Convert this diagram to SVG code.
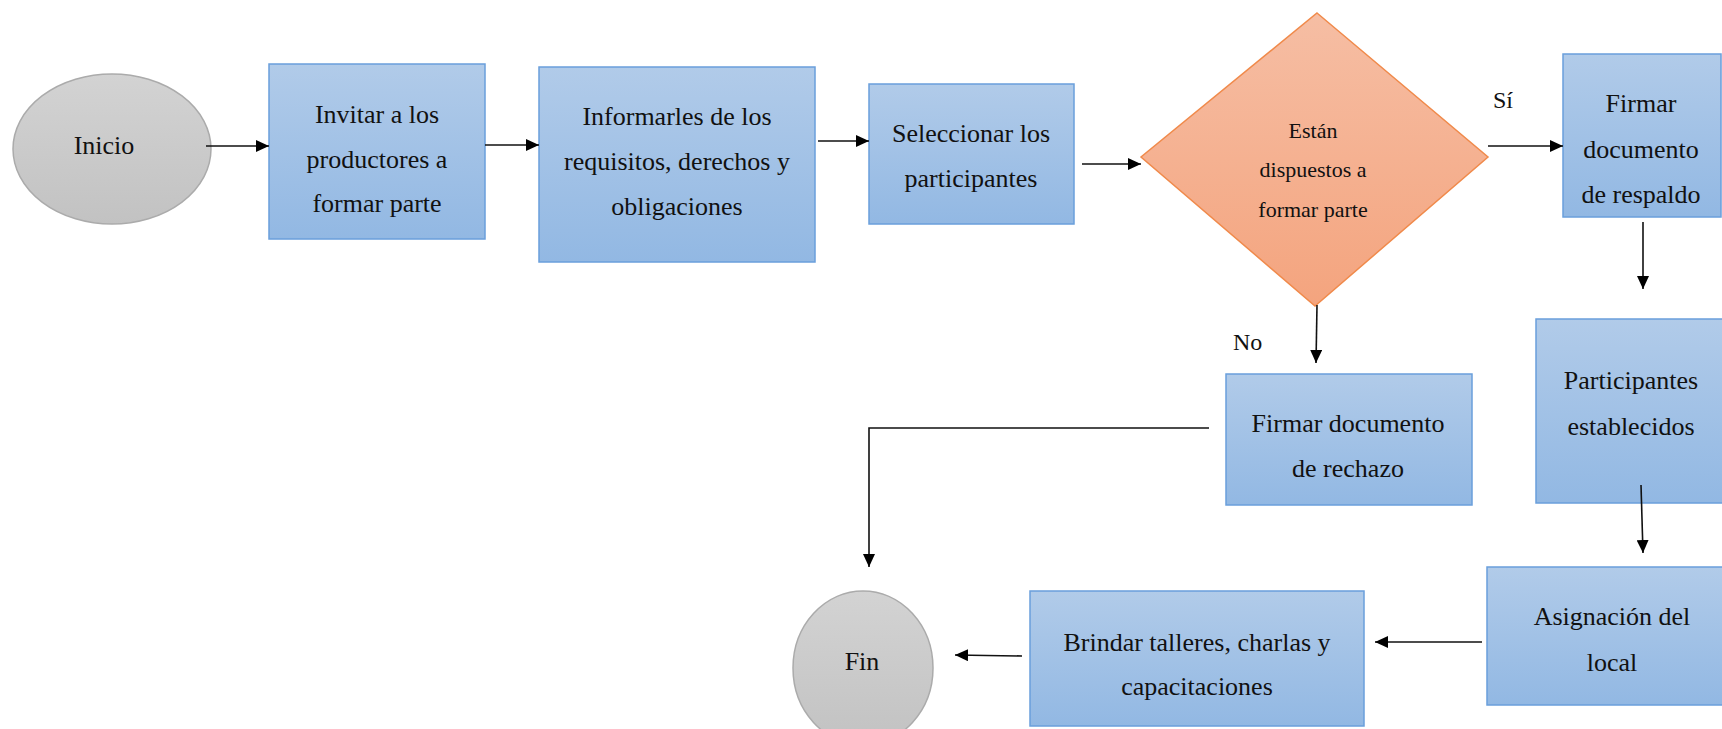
<svg xmlns="http://www.w3.org/2000/svg" width="1722" height="729" viewBox="0 0 1722 729">
<defs>
<linearGradient id="gBlue" x1="0" y1="0" x2="0" y2="1">
<stop offset="0" stop-color="#B1CBE9"/>
<stop offset="1" stop-color="#92B8E3"/>
</linearGradient>
<linearGradient id="gOrange" x1="0" y1="0" x2="0" y2="1">
<stop offset="0" stop-color="#F6BEA4"/>
<stop offset="1" stop-color="#F4A47E"/>
</linearGradient>
<linearGradient id="gGray" x1="0" y1="0" x2="0" y2="1">
<stop offset="0" stop-color="#D3D3D3"/>
<stop offset="1" stop-color="#C2C2C2"/>
</linearGradient>
<marker id="arr" markerUnits="userSpaceOnUse" markerWidth="14" markerHeight="12" refX="13" refY="6" orient="auto">
<path d="M0,0 L13,6 L0,12 z" fill="#000"/>
</marker>
<style>
.box{fill:url(#gBlue);stroke:#6A9FDB;stroke-width:1.5}
.dia{fill:url(#gOrange);stroke:#F08A4B;stroke-width:1.5}
.ell{fill:url(#gGray);stroke:#ABABAB;stroke-width:1.5}
.t{font-family:"Liberation Serif","Times New Roman",serif;font-size:26px;fill:#111;text-anchor:middle}
.td{font-family:"Liberation Serif","Times New Roman",serif;font-size:22px;fill:#111;text-anchor:middle}
.lbl{font-family:"Liberation Serif","Times New Roman",serif;font-size:24px;fill:#111}
.c{fill:none;stroke:#111;stroke-width:1.6}
</style>
</defs>
<rect width="1722" height="729" fill="#fff"/>

<g id="inicio">
<ellipse class="ell" cx="112" cy="149" rx="99" ry="75"/>
<text class="t" x="104" y="154">Inicio</text>
</g>

<g id="invitar">
<rect class="box" x="269" y="64" width="216" height="175"/>
<text class="t" x="377" y="123">Invitar a los</text>
<text class="t" x="377" y="168">productores a</text>
<text class="t" x="377" y="212">formar parte</text>
</g>

<g id="informarles">
<rect class="box" x="539" y="67" width="276" height="195"/>
<text class="t" x="677" y="125">Informarles de los</text>
<text class="t" x="677" y="170">requisitos, derechos y</text>
<text class="t" x="677" y="215">obligaciones</text>
</g>

<g id="seleccionar">
<rect class="box" x="869" y="84" width="205" height="140"/>
<text class="t" x="971" y="142">Seleccionar los</text>
<text class="t" x="971" y="187">participantes</text>
</g>

<g id="decision">
<polygon class="dia" points="1317,13 1488,157 1315,306 1141,157"/>
<text class="td" x="1313" y="138">Están</text>
<text class="td" x="1313" y="177">dispuestos a</text>
<text class="td" x="1313" y="217">formar parte</text>
</g>

<g id="firmar-respaldo">
<rect class="box" x="1563" y="54" width="158" height="163"/>
<text class="t" x="1641" y="112">Firmar</text>
<text class="t" x="1641" y="158">documento</text>
<text class="t" x="1641" y="203">de respaldo</text>
</g>

<g id="firmar-rechazo">
<rect class="box" x="1226" y="374" width="246" height="131"/>
<text class="t" x="1348" y="432">Firmar documento</text>
<text class="t" x="1348" y="477">de rechazo</text>
</g>

<g id="participantes">
<rect class="box" x="1536" y="319" width="190" height="184"/>
<text class="t" x="1631" y="389">Participantes</text>
<text class="t" x="1631" y="435">establecidos</text>
</g>

<g id="asignacion">
<rect class="box" x="1487" y="567" width="240" height="138"/>
<text class="t" x="1612" y="625">Asignación del</text>
<text class="t" x="1612" y="671">local</text>
</g>

<g id="brindar">
<rect class="box" x="1030" y="591" width="334" height="135"/>
<text class="t" x="1197" y="651">Brindar talleres, charlas y</text>
<text class="t" x="1197" y="695">capacitaciones</text>
</g>

<g id="fin">
<ellipse class="ell" cx="863" cy="668" rx="70" ry="77"/>
<text class="t" x="862" y="670">Fin</text>
</g>

<g id="connectors">
<path class="c" d="M206,146 L269,146" marker-end="url(#arr)"/>
<path class="c" d="M485,145 L539,145" marker-end="url(#arr)"/>
<path class="c" d="M818,141 L869,141" marker-end="url(#arr)"/>
<path class="c" d="M1082,164 L1141,164" marker-end="url(#arr)"/>
<path class="c" d="M1488,146 L1563,146" marker-end="url(#arr)"/>
<path class="c" d="M1643,222 L1643,289" marker-end="url(#arr)"/>
<path class="c" d="M1641,485 L1643,553" marker-end="url(#arr)"/>
<path class="c" d="M1482,642 L1375,642" marker-end="url(#arr)"/>
<path class="c" d="M1022,656 L955,655" marker-end="url(#arr)"/>
<path class="c" d="M1317,305 L1316,363" marker-end="url(#arr)"/>
<path class="c" d="M1209,428 L869,428 L869,567" marker-end="url(#arr)"/>
<text class="lbl" x="1493" y="108">Sí</text>
<text class="lbl" x="1233" y="350">No</text>
</g>
</svg>
